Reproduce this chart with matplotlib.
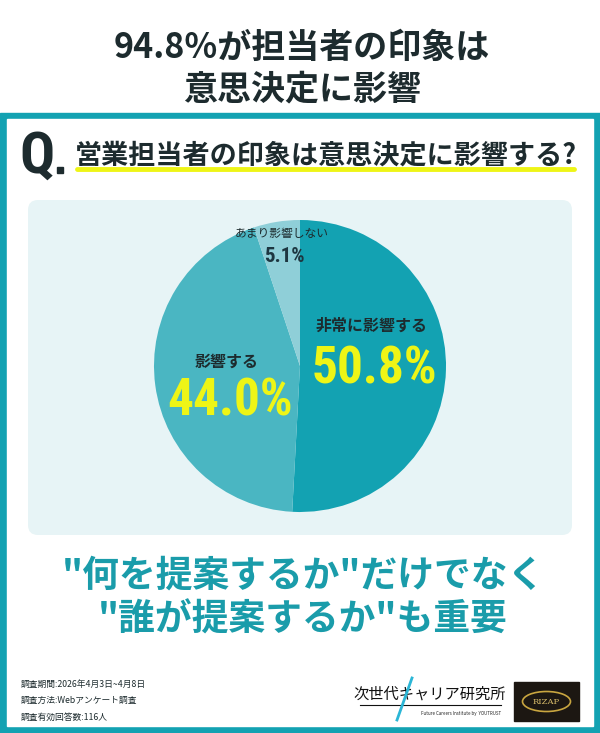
import matplotlib.pyplot as plt
from matplotlib import font_manager
from matplotlib.patches import FancyBboxPatch, Rectangle, Ellipse

plt.rcParams['font.family'] = ['Noto Sans CJK JP', 'DejaVu Sans']

# data
labels = ['非常に影響する', '影響する', 'あまり影響しない']
values = [50.8, 44.0, 5.1]
pct_labels = ['50.8%', '44.0%', '5.1%']
colors = ['#13a2b2', '#4ab6c2', '#8fcfd8']

title_lines = ['94.8%が担当者の印象は', '意思決定に影響']
question = '営業担当者の印象は意思決定に影響する?'
message_lines = ['"何を提案するか"だけでなく', '"誰が提案するか"も重要']
notes = ['調査期間:2026年4月3日~4月8日',
         '調査方法:Webアンケート調査',
         '調査有効回答数:116人']

teal = '#13a2b2'
dark = '#1d2b2e'
yellow = '#eef516'


# look for a condensed bold face for the big numbers
def is_condensed(f):
    s = f.stretch
    if isinstance(s, str):
        return 'condensed' in s or 'narrow' in f.name.lower()
    return s < 500 or 'narrow' in f.name.lower()


cond = None
for f in font_manager.fontManager.ttflist:
    if is_condensed(f) and f.weight in (700, 'bold') and f.style == 'normal':
        if cond is None or f.name.startswith(('Noto Sans', 'Roboto', 'DejaVu')):
            cond = f
if cond is not None:
    num_font = dict(family=cond.name, fontstretch=cond.stretch)
    big, small, qsize = 37, 15, 42
else:
    num_font = dict(family='Roboto')
    big, small, qsize = 32, 14, 34

W, H = 600, 733
fig = plt.figure(figsize=(6, 7.33), dpi=100)
bg = fig.add_axes([0, 0, 1, 1])
bg.set_xlim(0, W)
bg.set_ylim(H, 0)
bg.axis('off')

# frame and panel
bg.add_patch(Rectangle((0, 113), W, H - 113, color=teal, zorder=0))
bg.add_patch(Rectangle((7, 119), W - 14, H - 119 - 7, color='white', zorder=1))
bg.add_patch(FancyBboxPatch((28, 200), 544, 335, boxstyle='round,pad=0,rounding_size=10',
                            fc='#e7f4f6', ec='none', zorder=2))

# title
for i, s in enumerate(title_lines):
    bg.text(302, 47 + i * 42, s, ha='center', va='center', fontsize=24.5,
            fontweight='bold', color=dark, zorder=3)

# question
bg.text(19, 157, 'Q', ha='left', va='center', fontsize=qsize, fontweight='bold',
        color=dark, zorder=3, **num_font)
bg.add_patch(Rectangle((57, 167), 6, 6, color=dark, zorder=3))
bg.plot([77, 574], [169, 169], color=yellow, lw=3.5, solid_capstyle='round', zorder=3)
bg.text(326, 156, question, ha='center', va='center', fontsize=19.5, fontweight='bold',
        color=dark, zorder=4)

# pie
cx, cy, r = 300, 366, 146
pie_ax = fig.add_axes([(cx - r) / W, (H - cy - r) / H, 2 * r / W, 2 * r / H])
pie_ax.pie(values, colors=colors, startangle=90, counterclock=False,
           wedgeprops=dict(linewidth=0))
pie_ax.set_xlim(-1, 1)
pie_ax.set_ylim(-1, 1)
pie_ax.set_aspect('auto')
pie_ax.axis('off')

# overlay for labels on the pie
top = fig.add_axes([0, 0, 1, 1])
top.set_xlim(0, W)
top.set_ylim(H, 0)
top.axis('off')
top.patch.set_alpha(0)

top.text(372, 326, labels[0], ha='center', va='center', fontsize=11.5,
         fontweight='bold', color=dark)
top.text(374, 369, pct_labels[0], ha='center', va='center', fontsize=big,
         fontweight='bold', color=yellow, **num_font)
top.text(227, 362, labels[1], ha='center', va='center', fontsize=11.5,
         fontweight='bold', color=dark)
top.text(230, 402, pct_labels[1], ha='center', va='center', fontsize=big,
         fontweight='bold', color=yellow, **num_font)
top.text(282, 234, labels[2], ha='center', va='center', fontsize=8.5,
         color=dark)
top.text(284, 256, pct_labels[2], ha='center', va='center', fontsize=small,
         fontweight='bold', color='#1d3640', **num_font)

# message
for i, s in enumerate(message_lines):
    bg.text(303, 576 + i * 44, s, ha='center', va='center', fontsize=26.5,
            fontweight='bold', color='#1a9caa', zorder=3)

# survey notes
for i, s in enumerate(notes):
    bg.text(21, 684 + i * 16.5, s, ha='left', va='center', fontsize=6.3,
            color=dark, zorder=3)

# logos
bg.text(430, 694, '次世代キャリア研究所', ha='center', va='center', fontsize=11,
        color='#111111', zorder=3)
bg.plot([360, 501], [705, 705], color='#111111', lw=0.8, zorder=3)
bg.plot([397, 412], [720, 678], color='#2bb6d6', lw=2, zorder=4)
bg.text(501, 714, 'Future Careers Institute by  YOUTRUST', ha='right', va='center',
        fontsize=3.2, style='italic', color='#222222', zorder=3)
bg.add_patch(Rectangle((514, 682), 65, 39, color='#1c1712', zorder=3))
bg.add_patch(Ellipse((546.5, 701.5), 48, 20, fc='none', ec='#c9a640', lw=1.2, zorder=4))
bg.text(546.5, 701.5, 'RIZAP', ha='center', va='center', fontsize=6,
        color='#d9bd6a', family='DejaVu Serif', zorder=5)

fig.savefig('out.png', dpi=100)
